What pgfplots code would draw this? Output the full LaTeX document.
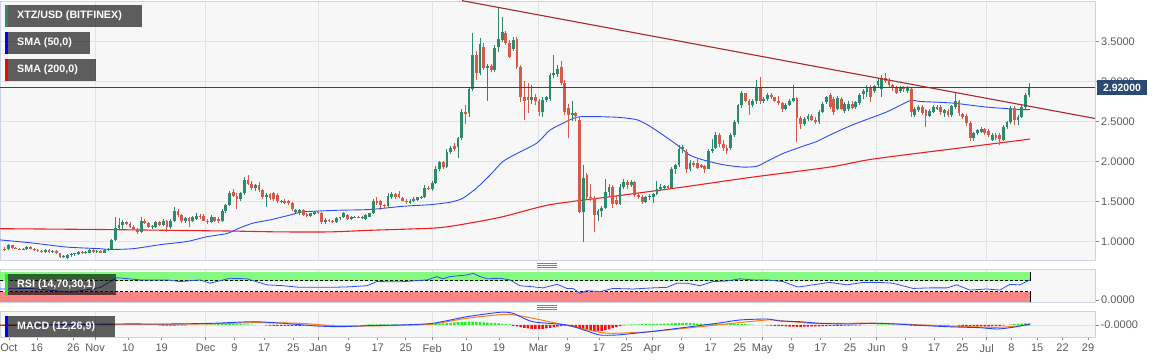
\documentclass[border=0pt]{standalone}
\usepackage{pgfplots}
\pgfplotsset{compat=1.18}
\usepackage{pgfplotstable}
\usetikzlibrary{calc}
\usepackage{fontspec}
\setmainfont{Liberation Sans}
\definecolor{cUp}{HTML}{2E8A6C}
\definecolor{cDn}{HTML}{D65A48}
\definecolor{panelbg}{HTML}{F7F7F7}
\definecolor{bordc}{HTML}{CCD3E3}
\definecolor{gridc}{HTML}{E2E2E2}
\definecolor{navy}{HTML}{2B4A73}
\definecolor{smafifty}{HTML}{2A4DF5}
\definecolor{smatwo}{HTML}{F02020}
\definecolor{trend}{HTML}{A82828}
\definecolor{ticktext}{HTML}{5A5A5A}
\definecolor{rsigreen}{HTML}{80FA7C}
\definecolor{rsired}{HTML}{FA8080}
\definecolor{rsiline}{HTML}{3050EE}
\definecolor{macdblue}{HTML}{2244FF}
\definecolor{macdorange}{HTML}{FF7A1A}
\definecolor{histgreen}{HTML}{22EE22}
\definecolor{histred}{HTML}{F21010}

\pgfplotstableread{
x o h l c
-85 0.91 0.93 0.88 0.90
-84 0.90 0.97 0.89 0.95
-83 0.95 0.96 0.91 0.92
-82 0.92 0.93 0.90 0.91
-81 0.91 0.92 0.89 0.90
-80 0.90 0.92 0.89 0.91
-79 0.90 0.94 0.89 0.93
-78 0.93 0.94 0.90 0.91
-77 0.91 0.92 0.88 0.89
-76 0.89 0.90 0.87 0.88
-75 0.88 0.89 0.86 0.87
-74 0.87 0.90 0.86 0.89
-73 0.89 0.90 0.86 0.87
-72 0.87 0.89 0.86 0.88
-71 0.88 0.89 0.84 0.85
-70 0.85 0.86 0.79 0.80
-69 0.80 0.83 0.79 0.82
-68 0.79 0.84 0.78 0.83
-67 0.83 0.85 0.81 0.84
-66 0.84 0.86 0.82 0.85
-65 0.84 0.88 0.83 0.87
-64 0.87 0.88 0.84 0.85
-63 0.85 0.88 0.84 0.87
-62 0.86 0.91 0.85 0.89
-61 0.89 0.90 0.86 0.87
-60 0.87 0.89 0.86 0.88
-59 0.88 0.89 0.85 0.86
-58 0.86 0.90 0.85 0.89
-57 0.89 0.92 0.88 0.91
-56 0.91 1.03 0.90 1.02
-55 1.02 1.30 1.01 1.17
-54 1.17 1.29 1.14 1.20
-53 1.20 1.27 1.14 1.24
-52 1.24 1.26 1.20 1.22
-51 1.22 1.24 1.17 1.18
-50 1.18 1.20 1.14 1.15
-49 1.15 1.17 1.09 1.12
-48 1.12 1.30 1.11 1.26
-47 1.26 1.28 1.22 1.23
-46 1.23 1.24 1.17 1.18
-45 1.18 1.20 1.16 1.19
-44 1.18 1.26 1.17 1.24
-43 1.24 1.25 1.19 1.21
-42 1.21 1.28 1.19 1.26
-41 1.26 1.27 1.12 1.18
-40 1.18 1.28 1.16 1.26
-39 1.26 1.43 1.24 1.38
-38 1.38 1.40 1.31 1.33
-37 1.33 1.34 1.23 1.25
-36 1.25 1.30 1.23 1.29
-35 1.29 1.30 1.18 1.25
-34 1.25 1.32 1.24 1.30
-33 1.28 1.36 1.27 1.32
-32 1.32 1.34 1.28 1.30
-31 1.32 1.34 1.25 1.26
-30 1.26 1.28 1.22 1.24
-29 1.24 1.33 1.23 1.30
-28 1.30 1.31 1.24 1.25
-27 1.28 1.30 1.23 1.25
-26 1.25 1.40 1.24 1.38
-25 1.38 1.47 1.36 1.45
-24 1.45 1.63 1.44 1.61
-23 1.62 1.65 1.55 1.57
-22 1.57 1.60 1.40 1.53
-21 1.53 1.62 1.50 1.60
-20 1.60 1.80 1.58 1.77
-19 1.77 1.83 1.70 1.72
-18 1.72 1.75 1.64 1.67
-17 1.67 1.72 1.63 1.70
-16 1.71 1.74 1.62 1.64
-15 1.64 1.66 1.53 1.55
-14 1.55 1.60 1.43 1.58
-13 1.59 1.61 1.52 1.54
-12 1.60 1.62 1.51 1.53
-11 1.58 1.61 1.48 1.50
-10 1.50 1.52 1.48 1.51
-9 1.51 1.53 1.47 1.48
-8 1.50 1.52 1.46 1.48
-7 1.48 1.49 1.38 1.40
-6 1.37 1.40 1.35 1.39
-5 1.35 1.40 1.33 1.39
-4 1.39 1.41 1.32 1.33
-3 1.34 1.36 1.31 1.32
-2 1.32 1.36 1.31 1.35
-1 1.34 1.38 1.33 1.37
0 1.37 1.38 1.34 1.36
1 1.36 1.37 1.22 1.24
2 1.24 1.29 1.22 1.27
3 1.27 1.28 1.24 1.25
4 1.25 1.27 1.23 1.24
5 1.24 1.30 1.23 1.29
6 1.29 1.31 1.27 1.30
7 1.30 1.37 1.29 1.35
8 1.33 1.34 1.27 1.28
9 1.28 1.32 1.27 1.31
10 1.30 1.32 1.29 1.31
11 1.31 1.32 1.29 1.30
12 1.30 1.32 1.28 1.31
13 1.28 1.34 1.27 1.33
14 1.31 1.36 1.30 1.35
15 1.35 1.53 1.34 1.51
16 1.51 1.55 1.46 1.48
17 1.50 1.52 1.39 1.45
18 1.45 1.47 1.42 1.44
19 1.44 1.60 1.43 1.57
20 1.55 1.62 1.53 1.59
21 1.59 1.61 1.53 1.55
22 1.59 1.63 1.54 1.56
23 1.54 1.55 1.50 1.51
24 1.51 1.53 1.47 1.49
25 1.48 1.53 1.47 1.51
26 1.50 1.55 1.49 1.53
27 1.52 1.56 1.51 1.55
28 1.54 1.57 1.53 1.56
29 1.56 1.70 1.54 1.67
30 1.67 1.69 1.64 1.65
31 1.65 1.76 1.63 1.73
32 1.73 1.94 1.72 1.91
33 1.91 2.01 1.88 1.99
34 1.99 2.00 1.90 1.93
35 1.93 2.15 1.92 2.12
36 2.12 2.19 2.09 2.17
37 2.19 2.23 2.13 2.15
38 2.18 2.30 2.04 2.29
39 2.29 2.65 2.27 2.62
40 2.62 2.71 2.47 2.59
41 2.60 2.92 2.55 2.90
42 2.91 3.60 2.88 3.33
43 3.33 3.38 3.02 3.10
44 3.10 3.54 3.08 3.47
45 3.43 3.48 3.14 3.17
46 3.17 3.22 2.75 3.19
47 3.19 3.22 3.12 3.14
48 3.14 3.45 3.12 3.42
49 3.43 3.93 3.37 3.53
50 3.52 3.80 3.49 3.62
51 3.60 3.63 3.46 3.48
52 3.48 3.52 3.29 3.31
53 3.40 3.56 3.38 3.52
54 3.53 3.56 3.16 3.18
55 3.18 3.20 2.74 2.81
56 2.81 3.00 2.52 2.76
57 2.80 2.98 2.60 2.77
58 2.77 2.96 2.72 2.80
59 2.80 2.84 2.70 2.76
60 2.75 2.78 2.57 2.62
61 2.62 2.80 2.56 2.77
62 2.77 2.82 2.74 2.80
63 2.78 3.10 2.76 3.08
64 3.08 3.33 3.04 3.10
65 3.09 3.20 3.06 3.16
66 3.18 3.25 2.95 2.98
67 2.98 3.02 2.58 2.62
68 2.67 2.72 2.29 2.58
69 2.58 2.75 2.50 2.60
70 2.60 2.62 2.50 2.57
71 2.52 2.55 1.35 1.37
72 1.37 1.95 0.99 1.79
73 1.83 1.86 1.52 1.56
74 1.56 1.72 1.50 1.54
75 1.54 1.57 1.12 1.33
76 1.33 1.40 1.25 1.38
77 1.38 1.44 1.31 1.42
78 1.42 1.78 1.40 1.62
79 1.62 1.72 1.56 1.68
80 1.68 1.70 1.42 1.47
81 1.52 1.58 1.45 1.47
82 1.47 1.72 1.45 1.68
83 1.68 1.78 1.65 1.74
84 1.74 1.77 1.66 1.70
85 1.70 1.77 1.68 1.74
86 1.74 1.76 1.55 1.58
87 1.58 1.61 1.53 1.56
88 1.56 1.58 1.47 1.49
89 1.49 1.57 1.48 1.56
90 1.56 1.59 1.52 1.57
91 1.56 1.60 1.48 1.59
92 1.59 1.76 1.58 1.66
93 1.66 1.72 1.63 1.68
94 1.67 1.71 1.64 1.69
95 1.69 1.70 1.65 1.67
96 1.67 1.93 1.66 1.91
97 1.91 1.97 1.84 1.95
98 1.95 2.20 1.93 2.16
99 2.16 2.21 2.10 2.18
100 2.12 2.16 1.85 1.91
101 1.91 2.02 1.88 1.98
102 1.98 2.00 1.93 1.95
103 1.98 2.03 1.90 1.92
104 1.95 1.97 1.92 1.93
105 1.94 1.96 1.85 1.91
106 1.91 2.16 1.90 2.13
107 2.13 2.28 2.10 2.15
108 2.17 2.37 2.15 2.33
109 2.33 2.36 2.18 2.22
110 2.22 2.27 2.13 2.17
111 2.17 2.20 2.09 2.13
112 2.17 2.35 2.14 2.33
113 2.33 2.52 2.31 2.49
114 2.49 2.72 2.47 2.70
115 2.70 2.88 2.67 2.85
116 2.85 2.86 2.74 2.76
117 2.76 2.78 2.58 2.71
118 2.71 2.78 2.68 2.75
119 2.75 3.02 2.72 2.93
120 2.93 3.06 2.72 2.76
121 2.76 2.80 2.73 2.78
122 2.78 2.86 2.76 2.83
123 2.83 2.86 2.78 2.80
124 2.80 2.81 2.74 2.76
125 2.76 2.82 2.71 2.73
126 2.73 2.74 2.62 2.66
127 2.66 2.73 2.64 2.71
128 2.71 2.78 2.69 2.76
129 2.76 2.96 2.74 2.79
130 2.79 2.80 2.24 2.54
131 2.54 2.57 2.40 2.47
132 2.47 2.55 2.44 2.53
133 2.53 2.59 2.50 2.57
134 2.57 2.59 2.50 2.52
135 2.52 2.55 2.47 2.49
136 2.49 2.64 2.47 2.62
137 2.62 2.74 2.60 2.72
138 2.74 2.82 2.72 2.80
139 2.83 2.86 2.66 2.68
140 2.78 2.80 2.58 2.62
141 2.66 2.82 2.64 2.79
142 2.78 2.80 2.64 2.66
143 2.63 2.74 2.60 2.72
144 2.65 2.75 2.63 2.72
145 2.72 2.75 2.65 2.67
146 2.68 2.76 2.66 2.74
147 2.73 2.85 2.71 2.83
148 2.84 2.90 2.78 2.88
149 2.87 2.95 2.80 2.92
150 2.93 2.96 2.74 2.80
151 2.88 2.96 2.86 2.94
152 2.95 3.04 2.93 3.01
153 2.90 3.08 2.80 3.04
154 3.04 3.10 2.98 3.00
155 3.00 3.04 2.92 2.95
156 2.95 2.97 2.88 2.92
157 2.92 2.94 2.84 2.86
158 2.88 2.94 2.86 2.92
159 2.92 2.94 2.87 2.90
160 2.88 2.94 2.86 2.92
161 2.90 2.92 2.56 2.62
162 2.58 2.68 2.55 2.66
163 2.64 2.70 2.62 2.68
164 2.68 2.70 2.58 2.60
165 2.64 2.66 2.43 2.57
166 2.57 2.65 2.55 2.63
167 2.62 2.70 2.60 2.68
168 2.66 2.70 2.64 2.68
169 2.68 2.70 2.58 2.62
170 2.60 2.66 2.56 2.64
171 2.63 2.66 2.55 2.58
172 2.58 2.71 2.56 2.69
173 2.68 2.85 2.66 2.76
174 2.75 2.77 2.57 2.60
175 2.59 2.61 2.53 2.56
176 2.57 2.59 2.44 2.48
177 2.48 2.50 2.26 2.29
178 2.29 2.37 2.26 2.35
179 2.35 2.41 2.33 2.39
180 2.37 2.43 2.35 2.41
181 2.40 2.42 2.33 2.36
182 2.38 2.40 2.30 2.33
183 2.27 2.35 2.25 2.33
184 2.33 2.35 2.27 2.29
185 2.33 2.35 2.20 2.28
186 2.27 2.45 2.25 2.43
187 2.43 2.51 2.40 2.49
188 2.49 2.69 2.47 2.67
189 2.67 2.69 2.46 2.52
190 2.52 2.58 2.45 2.56
191 2.56 2.70 2.54 2.68
192 2.68 2.85 2.66 2.83
193 2.83 2.98 2.80 2.92
}\candles

\pgfplotsset{
  panel/.style={
    scale only axis, width=1095pt, xmin=-86.3, xmax=210.9,
    axis background/.style={fill=panelbg},
    axis line style={draw=bordc, line width=0.8pt},
    tick align=outside, major tick length=4pt,
    tick style={draw=ticktext!70, line width=0.6pt},
    ytick pos=right, yticklabel pos=right,
    yticklabel style={font=\fontsize{11}{13}\selectfont, text=ticktext, inner sep=2pt},
    grid style={draw=gridc, line width=0.7pt},
    clip=true,
  },
  monthgrid/.style={
    xtick={-60.5,-30.5,0.1,31.0,59.8,90.7,120.6,151.6,181.5},
    xticklabels={}, xtick style={draw=none}, xmajorgrids,
  },
  candle/.style 2 args={draw=none, mark=none, forget plot,
    error bars/.cd, y dir=plus, y explicit, error mark=none,
    error bar style={line width=#2, draw=#1, solid, line cap=butt}},
}

\begin{document}
\begin{tikzpicture}
\path[use as bounding box] (0pt,0pt) rectangle (1166pt,363pt);

% ---------- main price panel ----------
\begin{axis}[panel, monthgrid, at={(0pt,103pt)}, anchor=south west, height=259pt,
  ymin=0.76875, ymax=4.006, ymajorgrids,
  ytick={1,1.5,2,2.5,3,3.5},
  yticklabels={1.0000,1.5000,2.0000,2.5000,3.0000,3.5000}]
\addplot[smatwo, line width=1.1pt, smooth, tension=0.4] coordinates {
(-86.3,1.16) (-59.2,1.15) (-41,1.14) (-23,1.13) (-10.3,1.12) (3.3,1.12) (14.1,1.14) (32.3,1.17) (41.2,1.23) (50.2,1.31) (63,1.46) (81.1,1.57) (99,1.68) (117.2,1.80) (138.9,1.93) (150.6,2.03) (176.1,2.18) (193.2,2.28)};
\addplot[smafifty, line width=0.9pt, smooth, tension=0.4] coordinates {
(-86.3,1.02) (-77.3,0.98) (-68.1,0.93) (-59.2,0.91) (-56.4,0.90) (-50.2,0.91) (-42.9,0.96) (-35.5,1.00) (-30.1,1.06) (-24.7,1.10) (-21.2,1.17) (-17.6,1.23) (-13.0,1.27) (-7.6,1.33) (-4.1,1.37) (5.2,1.39) (14.1,1.40) (23.1,1.44) (30.4,1.46) (35.8,1.49) (39.3,1.54) (43.1,1.67) (46.7,1.83) (50.2,2.00) (54.0,2.10) (59.4,2.23) (62.9,2.39) (66.6,2.48) (69.3,2.54) (71.3,2.56) (76.7,2.56) (82.1,2.55) (86.7,2.52) (90.1,2.44) (93.7,2.33) (97.4,2.21) (100.9,2.08) (104.5,2.02) (109.9,1.96) (115.3,1.93) (119.1,1.94) (121.8,2.00) (126.2,2.10) (131.6,2.19) (135.4,2.25) (138.9,2.33) (145.2,2.46) (154.4,2.62) (160.7,2.76) (163.4,2.75) (172.3,2.73) (181.5,2.68) (190.5,2.65) (193.2,2.65)};
% candles: wicks and bodies
\addplot[restrict expr to domain={\thisrow{c}-\thisrow{o}}{0:10}, candle={cUp}{0.9pt}]
  table[x=x, y=l, y error expr=\thisrow{h}-\thisrow{l}] {\candles};
\addplot[restrict expr to domain={\thisrow{c}-\thisrow{o}}{0:10}, candle={cUp}{2.8pt}]
  table[x=x, y=o, y error expr=\thisrow{c}-\thisrow{o}] {\candles};
\addplot[restrict expr to domain={\thisrow{o}-\thisrow{c}}{0.00001:10}, candle={cDn}{0.9pt}]
  table[x=x, y=l, y error expr=\thisrow{h}-\thisrow{l}] {\candles};
\addplot[restrict expr to domain={\thisrow{o}-\thisrow{c}}{0.00001:10}, candle={cDn}{2.8pt}]
  table[x=x, y=c, y error expr=\thisrow{o}-\thisrow{c}] {\candles};
% trend line and price line
\addplot[trend, line width=1.1pt] coordinates {(39.1,4.01) (210.9,2.5375)};
\addplot[navy, line width=1pt] coordinates {(-90,2.92) (215,2.92)};
\coordinate (pricept) at (axis cs:210.9,2.92);
\end{axis}

% ---------- RSI panel ----------
\begin{axis}[panel, monthgrid, at={(0pt,61pt)}, anchor=south west, height=33pt,
  ymin=-7.3, ymax=112.7, ytick={0}, yticklabels={0.0000}]
\fill[rsigreen, opacity=0.95] (axis cs:-86.3,70) rectangle (axis cs:193.3,103);
\fill[rsired, opacity=0.95] (axis cs:-86.3,-6) rectangle (axis cs:193.3,30);
\draw[black, densely dashed, line width=0.5pt] (axis cs:-86.3,70) -- (axis cs:193.3,70);
\draw[black, densely dashed, line width=0.5pt] (axis cs:-86.3,30) -- (axis cs:193.3,30);
\draw[black, line width=0.8pt] (axis cs:193.3,70) -- (axis cs:193.3,103);
\draw[black, line width=0.8pt] (axis cs:193.3,-6) -- (axis cs:193.3,30);
\addplot[rsiline, line width=0.8pt] coordinates {
(-86.3,40) (-78,42) (-70,32) (-67.3,28) (-59.2,45) (-56.4,67) (-54.5,81) (-48.3,73) (-41,73) (-37.4,67) (-32,73) (-29.3,61) (-23.9,79) (-19.3,77) (-13.8,55) (-9.5,52) (-4.9,46) (4.1,46) (8.7,48) (13.3,52) (16,67) (22.3,66) (29.6,73) (32.3,85) (33.9,77) (35.8,85) (40.4,91) (42.1,97) (44,85) (45.9,77) (49.4,79) (52.1,73) (54.8,52) (58.3,48) (61.1,44) (64.9,57) (67.6,42) (69.2,42) (71.1,24) (73,34) (76.5,30) (80.1,42) (85.5,40) (90.9,44) (94.7,46) (97.4,61) (100.1,61) (103.7,52) (107.2,67) (111,69) (114.5,77) (118,73) (121.8,73) (126.2,67) (130,48) (130.8,48) (134.3,55) (138.9,64) (143.6,55) (147.9,64) (152.5,64) (156,61) (161.5,42) (166.1,44) (170.7,44) (173.4,55) (176.9,36) (181.5,40) (185.1,36) (187.8,57) (190.5,55) (193.2,73)};
\end{axis}

% ---------- MACD panel ----------
\begin{axis}[panel, at={(0pt,26pt)}, anchor=south west, height=26pt,
  ymin=-12, ymax=14, ytick={0}, yticklabels={-0.0000}, ymajorgrids,
  major tick length=3.5pt,
  xtick pos=left,
  xtick={-83.9,-76.3,-66.4,-60.5,-51.5,-42.4,-30.5,-22.7,-14.6,-6.7,0.1,8.1,16.2,23.8,31.0,40.3,49.1,59.8,67.8,76.3,83.8,90.7,98.7,106.6,114.5,120.6,128.5,136.4,144.4,151.6,159.3,167.2,174.9,181.5,188.2,195.2,202.1,209.0},
  xticklabels={Oct,16,26,Nov,10,19,Dec,9,17,25,Jan,9,17,25,Feb,10,19,Mar,9,17,25,Apr,9,17,25,May,9,17,25,Jun,9,17,25,Jul,8,15,22,29},
  xticklabel style={font=\fontsize{11}{13}\selectfont, text=ticktext},
  extra x ticks={-60.5,-30.5,0.1,31.0,59.8,90.7,120.6,151.6,181.5},
  extra x tick labels={},
  extra x tick style={grid=major}]
\addplot[ybar, bar width=2.5pt, bar shift=0pt, fill=histgreen, draw=none] coordinates {
(-55,0.4)(-54,0.5)(-53,0.5)(-52,0.6)(-51,0.6)(-50,0.5)(-49,0.5)(-48,0.4)(-47,0.4)(-46,0.3)(-45,0.3)
(-31,0.4)(-30,0.5)(-29,0.6)(-28,0.7)(-27,0.8)(-26,0.9)(-25,1.0)(-24,1.0)(-23,1.0)(-22,0.9)(-21,0.8)(-20,0.7)(-19,0.6)(-18,0.4)
(13,0.4)(14,0.5)(15,0.6)(16,0.7)(17,0.7)(18,0.7)(19,0.7)(20,0.6)(21,0.5)(22,0.4)
(31,0.8)(32,1.0)(33,1.3)(34,1.6)(35,1.9)(36,2.2)(37,2.5)(38,2.8)(39,3.0)(40,3.2)(41,3.3)(42,3.3)(43,3.2)(44,3.0)(45,2.7)(46,2.4)(47,2.1)(48,1.8)(49,1.5)(50,1.2)(51,0.9)(52,0.5)
(84,0.3)(85,0.5)(86,0.6)(87,0.7)(88,0.8)(89,0.9)(90,1.0)(91,1.0)(92,1.1)(93,1.2)(94,1.3)(95,1.4)(96,1.6)(97,1.8)(98,2.0)(99,2.1)(100,2.0)(101,1.8)(102,1.6)(103,1.4)(104,1.3)(105,1.2)(106,1.2)(107,1.3)(108,1.4)(109,1.3)(110,1.2)(111,1.0)(112,0.9)(113,0.9)(114,1.0)(115,1.0)(116,0.8)(117,0.6)(118,0.4)
(152,0.6)(153,0.7)(154,0.7)(155,0.6)(156,0.5)
(188,0.6)(189,0.9)(190,1.1)(191,1.3)(192,1.5)(193,1.7)};
\addplot[ybar, bar width=2.5pt, bar shift=0pt, fill=histred, draw=none] coordinates {
(-43,-0.5)(-42,-0.6)(-41,-0.7)(-40,-0.7)(-39,-0.6)(-38,-0.5)(-37,-0.4)(-36,-0.3)
(-14,-0.5)(-13,-0.7)(-12,-0.8)(-11,-0.9)(-10,-1.0)(-9,-1.0)(-8,-1.0)(-7,-1.0)(-6,-0.9)(-5,-0.8)(-4,-0.7)(-3,-0.6)(-2,-0.6)(-1,-0.5)(0,-0.5)(1,-0.5)(2,-0.4)(3,-0.4)(4,-0.3)
(53,-0.8)(54,-1.5)(55,-2.2)(56,-2.9)(57,-3.4)(58,-3.8)(59,-4.0)(60,-4.0)(61,-3.8)(62,-3.4)(63,-2.8)(64,-2.2)(65,-1.6)(66,-1.2)(67,-0.9)(68,-0.8)
(69,-1.2)(70,-1.8)(71,-3.0)(72,-4.2)(73,-5.0)(74,-5.6)(75,-6.0)(76,-6.0)(77,-5.8)(78,-5.2)(79,-4.3)(80,-3.2)(81,-2.2)(82,-1.2)(83,-0.5)
(122,-0.4)(123,-0.6)(124,-0.8)(125,-1.0)(126,-1.2)(127,-1.4)(128,-1.6)(129,-1.7)(130,-1.8)(131,-1.8)(132,-1.7)(133,-1.6)(134,-1.5)(135,-1.4)(136,-1.3)(137,-1.2)(138,-1.1)(139,-1.0)(140,-0.9)(141,-0.8)(142,-0.8)(143,-0.7)(144,-0.6)(145,-0.5)(146,-0.4)(147,-0.3)
(161,-0.6)(162,-0.8)(163,-0.9)(164,-1.0)(165,-1.0)(166,-1.0)(167,-1.0)(168,-0.9)(169,-0.8)(170,-0.7)(171,-0.6)
(174,-0.6)(175,-0.8)(176,-1.0)(177,-1.2)(178,-1.3)(179,-1.4)(180,-1.4)(181,-1.4)(182,-1.3)(183,-1.2)(184,-1.0)(185,-0.8)(186,-0.5)};
\addplot[macdorange, line width=1pt, smooth, tension=0.4] coordinates {
(-86.3,0) (-54.5,0.5) (-41,0.7) (-28.5,1.2) (-17.6,2.3) (-4.9,1.7) (4.1,-0.7) (13.3,-1.0) (22.3,-0.3) (31.2,1.0) (40.4,6.7) (51.3,10.7) (58.3,6.7) (69.2,-1.7) (76.5,-7.3) (80.1,-8.3) (90.1,-6.7) (103.7,-1.7) (112.6,1.7) (121.8,5.0) (125.4,4.5) (134.3,1.7) (152.5,1.7) (170.7,-1.0) (184.3,-2.3) (193.2,0.0)};
\addplot[macdblue, line width=0.9pt, smooth, tension=0.4] coordinates {
(-86.3,-0.5) (-54.5,1.0) (-41,1.0) (-28.5,1.7) (-17.6,3.3) (-9.5,1.7) (-0.3,-1.0) (6,-1.7) (13.3,-0.7) (22.3,0.0) (31.2,1.7) (40.4,8.3) (49.4,12.7) (52.9,11.7) (58.3,3.3) (67.6,0.0) (73,-6.0) (76.5,-10.0) (81.1,-10.0) (90.1,-6.7) (99,-2.7) (108.3,1.7) (114.5,5.0) (121.8,6.0) (125.4,4.0) (130.8,3.3) (136.2,1.7) (143.6,1.0) (152.5,1.7) (161.5,0.0) (170.7,-1.7) (179.6,-2.7) (184.3,-4.0) (188.6,-2.3) (193.2,1.0)};
\end{axis}

% ---------- overlays ----------
\fill[navy] ($(pricept)+(2pt,-7.5pt)$) rectangle ($(pricept)+(52pt,7.5pt)$);
\node[text=white, font=\bfseries\fontsize{10.5}{12}\selectfont, inner sep=0pt] at ($(pricept)+(27pt,0pt)$) {2.92000};

\begin{scope}[font=\bfseries\fontsize{10.7}{12}\selectfont]
\fill[black, opacity=0.62] (5pt,358pt) rectangle (142pt,336pt);
\fill[cUp] (5pt,358pt) rectangle (7.5pt,336pt);
\node[text=white, anchor=west, inner sep=0pt] at (17pt,347pt) {XTZ/USD (BITFINEX)};
\fill[black, opacity=0.62] (5pt,331pt) rectangle (90pt,309pt);
\fill[blue] (5pt,331pt) rectangle (7.5pt,309pt);
\node[text=white, anchor=west, inner sep=0pt] at (17pt,320pt) {SMA (50,0)};
\fill[black, opacity=0.62] (5pt,304pt) rectangle (96pt,282pt);
\fill[red] (5pt,304pt) rectangle (7.5pt,282pt);
\node[text=white, anchor=west, inner sep=0pt] at (17pt,293pt) {SMA (200,0)};
\fill[black, opacity=0.62] (5pt,89pt) rectangle (116pt,67.5pt);
\fill[histgreen] (5pt,89pt) rectangle (8pt,67.5pt);
\node[text=white, anchor=west, inner sep=0pt] at (17pt,78pt) {RSI (14,70,30,1)};
\fill[black, opacity=0.62] (5pt,47pt) rectangle (115pt,26pt);
\fill[blue] (5pt,47pt) rectangle (8pt,26pt);
\node[text=white, anchor=west, inner sep=0pt] at (17pt,36.5pt) {MACD (12,26,9)};
\end{scope}

% panel separators
\foreach \yy in {99.5,97.5,95.5,57.5,55.5,53.5}{
  \draw[gray, line width=0.6pt] (537pt,\yy pt) -- (557pt,\yy pt);
}
\end{tikzpicture}
\end{document}
